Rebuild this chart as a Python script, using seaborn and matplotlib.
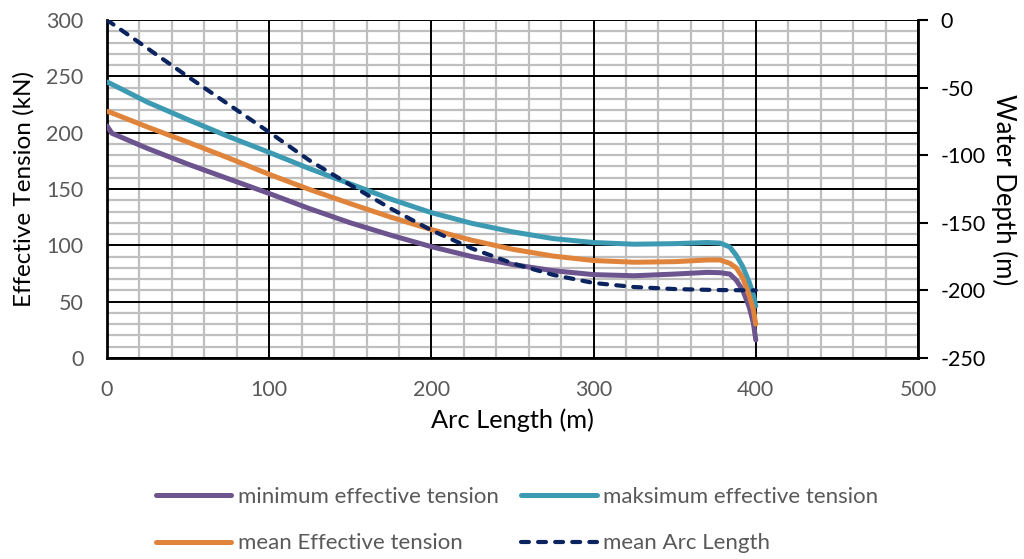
import numpy as np
import pandas as pd
import matplotlib
matplotlib.use("Agg")
import matplotlib.pyplot as plt
from matplotlib.ticker import MultipleLocator
import seaborn as sns

# Arc length stations (m) for the tension envelopes
arc_tension = [0, 3, 25, 50, 75, 100, 125, 150, 175, 200, 225, 250, 275, 300,
               325, 350, 370, 378, 384, 388, 392, 396, 398.5, 400]
min_tension = [206, 199.5, 186, 172, 159, 146, 132.5, 120, 109, 98.8, 90, 83, 77.5, 74,
               73, 74.5, 76, 75.7, 74.5, 69, 60, 45, 31, 16]
max_tension = [245, 243, 227, 211.5, 196.5, 182.5, 168, 154.5, 141, 129, 119.5, 112, 106, 102.5,
               101, 101.5, 102.5, 102, 98.5, 91, 81, 67, 56, 46]
mean_tension = [219, 217.5, 205, 191.5, 177.5, 163, 149.5, 137, 125, 114, 104.5, 96.5, 90.5, 86.5,
                85, 85.5, 87, 87, 84, 80, 71, 55, 43, 30]

# Water depth profile along the line
arc_depth = [0, 25, 50, 75, 100, 125, 150, 175, 200, 225, 250, 275, 300, 325, 350, 375, 400]
mean_depth = [0, -21, -42, -62.5, -83, -104, -122, -139.5, -155.5, -169, -180, -188.5,
              -194.5, -197.5, -199, -199.7, -200]

x_ticks = [0, 100, 200, 300, 400, 500]
left_ticks = [0, 50, 100, 150, 200, 250, 300]
right_ticks = [0, -50, -100, -150, -200, -250]

tension_df = pd.DataFrame({"arc": arc_tension, "min": min_tension,
                           "max": max_tension, "mean": mean_tension})
depth_df = pd.DataFrame({"arc": arc_depth, "depth": mean_depth})

sns.set_style("white")
plt.rcParams["font.family"] = ["Lato", "DejaVu Sans"]
plt.rcParams["axes.unicode_minus"] = False

fig = plt.figure(figsize=(10.24, 5.59), dpi=100)
ax = fig.add_axes([107 / 1024, 1 - 358 / 559, (918 - 107) / 1024, (358 - 20) / 559])

c_min, c_max, c_mean, c_depth = "#6C548F", "#3C9AB3", "#E0843C", "#0B2460"
lw = 3.6

sns.lineplot(data=tension_df, x="arc", y="min", ax=ax, color=c_min, lw=lw,
             sort=False, label="minimum effective tension", solid_capstyle="round",
             solid_joinstyle="round", zorder=3)
sns.lineplot(data=tension_df, x="arc", y="max", ax=ax, color=c_max, lw=lw,
             sort=False, label="maksimum effective tension", solid_capstyle="round",
             solid_joinstyle="round", zorder=3)
sns.lineplot(data=tension_df, x="arc", y="mean", ax=ax, color=c_mean, lw=lw,
             sort=False, label="mean Effective tension", solid_capstyle="round",
             solid_joinstyle="round", zorder=3)

ax.set_xlim(0, 500)
ax.set_ylim(0, 300)
ax.set_xticks(x_ticks)
ax.set_yticks(left_ticks)
ax.xaxis.set_minor_locator(MultipleLocator(20))
ax.yaxis.set_minor_locator(MultipleLocator(10))
ax.set_axisbelow(True)
# light minor grid underneath, black major grid on top of it
ax.grid(which="minor", color="#BFBFBF", lw=1.6)
ax.grid(which="major", visible=False)
for xv in x_ticks:
    ax.axvline(xv, color="black", lw=1.4, zorder=1)
for yv in left_ticks:
    ax.axhline(yv, color="black", lw=1.4, zorder=1)

ax.tick_params(axis="both", which="both", length=0, labelsize=15.5, labelcolor="#595959")
ax.tick_params(axis="x", pad=16)
ax.tick_params(axis="y", pad=17)
ax.set_xlabel("Arc Length (m)", fontsize=18.3, color="black", labelpad=6)
ax.set_ylabel("Effective Tension (kN)", fontsize=17.5, color="black", labelpad=8)
for side in ["left", "bottom"]:
    ax.spines[side].set_color("black")
    ax.spines[side].set_linewidth(2.0)
    ax.spines[side].set_zorder(2)
for side in ["top", "right"]:
    ax.spines[side].set_visible(False)

ax2 = ax.twinx()
sns.lineplot(data=depth_df, x="arc", y="depth", ax=ax2, color=c_depth, lw=3.0,
             sort=False, label="mean Arc Length", linestyle=(0, (1.9, 2.2)),
             dash_capstyle="round", zorder=4)
ax2.set_ylim(-250, 0)
ax2.set_yticks(right_ticks)
ax2.set_ylabel("")
ax2.tick_params(axis="y", direction="out", length=7, width=1.5, color="black",
                labelsize=15.5, labelcolor="black", pad=9)
ax2.grid(False)
for side in ["left", "bottom", "top"]:
    ax2.spines[side].set_visible(False)
ax2.spines["right"].set_color("black")
ax2.spines["right"].set_linewidth(2.0)

fig.text(1004 / 1024, 1 - 190 / 559, "Water Depth (m)", rotation=270,
         fontsize=18.5, color="black", ha="center", va="center")

h1, l1 = ax.get_legend_handles_labels()
h2, l2 = ax2.get_legend_handles_labels()
ax.get_legend().remove()
ax2.get_legend().remove()
# column-wise fill: first column min / mean, second column max / depth
handles = [h1[0], h1[2], h1[1], h2[0]]
labels = [l1[0], l1[2], l1[1], l2[0]]
leg = fig.legend(handles, labels, ncol=2, loc="center",
                 bbox_to_anchor=(517 / 1024, 1 - 520 / 559), frameon=False,
                 fontsize=16, handlelength=3.4, handletextpad=0.3,
                 columnspacing=1.0, labelspacing=1.2)
for t in leg.get_texts():
    t.set_color("#595959")

fig.savefig("out.png", dpi=100)
